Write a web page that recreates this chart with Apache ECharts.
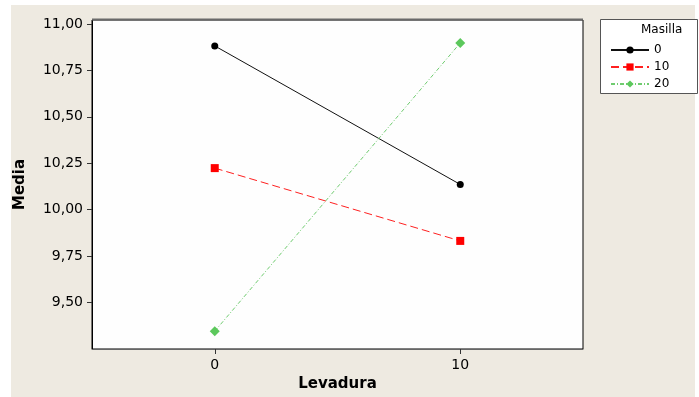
<!DOCTYPE html>
<html>
<head>
<meta charset="utf-8">
<script src="https://cdn.jsdelivr.net/npm/echarts@6/dist/echarts.min.js"></script>
<style>
  html, body { margin: 0; padding: 0; background: #ffffff; }
  #chart { width: 699px; height: 397px; }
</style>
</head>
<body>
<div id="chart"></div>
<script>
// Interaction plot of Media vs Levadura, one line per Masilla level
const levadura = [0, 10];
const masillaLevels = ['0', '10', '20'];
const media0 = [10.882, 10.136];
const media10 = [10.224, 9.832];
const media20 = [9.346, 10.898];
const yTicks = [9.5, 9.75, 10.0, 10.25, 10.5, 10.75, 11.0];
const xTicks = [0, 10];

const fmt = v => v.toFixed(2).replace('.', ',');
const pairs = vals => levadura.map((x, i) => [x, vals[i]]);

const chart = echarts.init(document.getElementById('chart'));
const font = 'DejaVu Sans, Verdana, sans-serif';

chart.setOption({
  backgroundColor: '#ffffff',
  animation: false,
  graphic: [
    { type: 'rect', silent: true, z: -10,
      shape: { x: 11, y: 5, width: 684, height: 392 },
      style: { fill: '#eeeae1' } },
    { type: 'rect', z: 1,
      shape: { x: 600.5, y: 19.5, width: 97, height: 74 },
      style: { fill: '#ffffff', stroke: '#555555', lineWidth: 1 } },
    { type: 'text', z: 2, left: 641, top: 24,
      style: { text: 'Masilla', font: '12px ' + font, fill: '#000' } },
    { type: 'line', z: 5,
      shape: { x1: 92, y1: 19.5, x2: 583, y2: 19.5 },
      style: { stroke: '#6a6a6a', lineWidth: 2 } }
  ],
  grid: {
    left: 92, top: 20, right: 116, bottom: 48,
    show: true, backgroundColor: '#fefefe', borderColor: '#000', borderWidth: 1
  },
  legend: {
    orient: 'vertical',
    left: 605, top: 39,
    itemWidth: 38, itemHeight: 9, itemGap: 5,
    itemTextGap: 6,
    data: masillaLevels,
    textStyle: { fontFamily: font, fontSize: 12, color: '#000' }
  },
  xAxis: {
    type: 'value', min: -5, max: 15,
    name: 'Levadura', nameLocation: 'middle', nameGap: 28,
    nameTextStyle: { fontFamily: font, fontSize: 15, fontWeight: 'bold', color: '#000' },
    splitLine: { show: false },
    axisLine: { onZero: false, lineStyle: { color: '#666', width: 1 } },
    axisTick: { customValues: xTicks, length: 5, lineStyle: { color: '#333' } },
    axisLabel: { customValues: xTicks, fontFamily: font, fontSize: 14, color: '#000', margin: 9 }
  },
  yAxis: {
    type: 'value', min: 9.25, max: 11.0215,
    name: 'Media', nameLocation: 'middle', nameGap: 64, nameRotate: 90,
    nameTextStyle: { fontFamily: font, fontSize: 15, fontWeight: 'bold', color: '#000' },
    splitLine: { show: false },
    axisLine: { onZero: false, lineStyle: { color: '#000', width: 1 } },
    axisTick: { customValues: yTicks, length: 5, lineStyle: { color: '#333' } },
    axisLabel: { customValues: yTicks, formatter: fmt, fontFamily: font, fontSize: 14, color: '#000', margin: 9 }
  },
  series: [
    { name: '0', type: 'line', data: pairs(media0),
      symbol: 'circle', symbolSize: 7,
      lineStyle: { color: '#111', width: 1, type: 'solid' },
      itemStyle: { color: '#000' } },
    { name: '10', type: 'line', data: pairs(media10),
      symbol: 'rect', symbolSize: 8,
      lineStyle: { color: '#ff2020', width: 1, type: [8, 4] },
      itemStyle: { color: '#ff0000' } },
    { name: '20', type: 'line', data: pairs(media20),
      symbol: 'diamond', symbolSize: 10,
      lineStyle: { color: '#70cc70', width: 1, type: [4, 2, 1, 2] },
      itemStyle: { color: '#5cc85c' } }
  ]
});
</script>
</body>
</html>
